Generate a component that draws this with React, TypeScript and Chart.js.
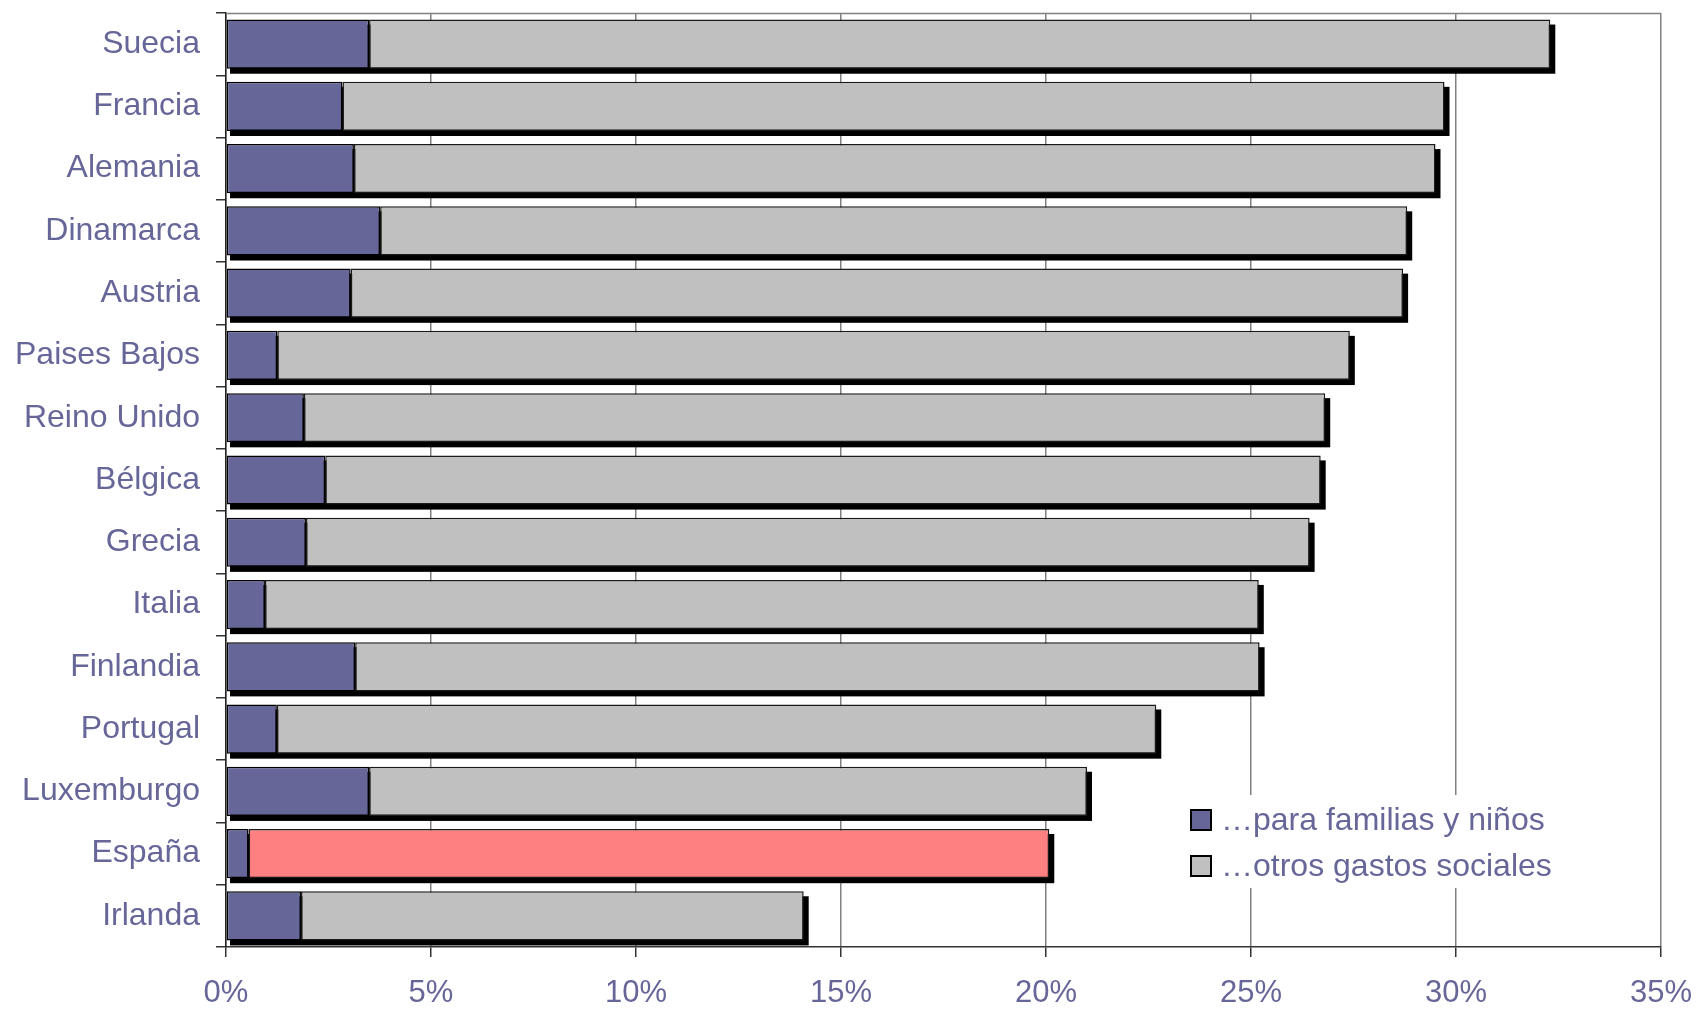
import React, { useEffect, useRef } from "react";
import { Chart, registerables } from "chart.js";

Chart.register(...registerables);

const countries = [
  "Suecia", "Francia", "Alemania", "Dinamarca", "Austria", "Paises Bajos",
  "Reino Unido", "Bélgica", "Grecia", "Italia", "Finlandia", "Portugal",
  "Luxemburgo", "España", "Irlanda",
];
const familias = [3.49, 2.84, 3.12, 3.76, 3.04, 1.25, 1.9, 2.42, 1.95, 0.95, 3.15, 1.24, 3.49, 0.55, 1.83];
const otros = [28.81, 26.88, 26.38, 25.05, 25.67, 26.16, 24.91, 24.28, 24.48, 24.24, 22.06, 21.45, 17.51, 19.53, 12.26];
const seriesLabels = ["…para familias y niños", "…otros gastos sociales"];
const xTickMax = 35;
const xTickStep = 5;

const BLUE = "#666699";
const GRAY = "#C0C0C0";
const RED = "#FF8080";
const TEXT = "#666699";
const FONT = "'Liberation Sans', Arial, sans-serif";

const shadowPlugin = {
  id: "shadowAndFrame",
  beforeDatasetsDraw(chart: any) {
    const ctx = chart.ctx;
    const area = chart.chartArea;
    ctx.save();
    ctx.strokeStyle = "#808080";
    ctx.lineWidth = 1.5;
    ctx.beginPath();
    ctx.moveTo(area.left, area.top + 0.5);
    ctx.lineTo(area.right, area.top + 0.5);
    ctx.stroke();
    const x0 = chart.scales.x.getPixelForValue(0);
    const meta = chart.getDatasetMeta(1);
    ctx.fillStyle = "#000";
    meta.data.forEach((el: any) => {
      const h = el.height;
      const top = el.y - h / 2;
      ctx.fillRect(x0 + 4, top + 5, el.x + 5 - (x0 + 4), h);
    });
    ctx.restore();
  },
  afterDatasetsDraw(chart: any) {
    const ctx = chart.ctx;
    ctx.save();
    ctx.fillStyle = "#fff";
    ctx.fillRect(1180, 795, 392, 93);
    const colors = [BLUE, GRAY];
    const centers = [820, 866];
    ctx.font = `32px ${FONT}`;
    ctx.textBaseline = "middle";
    ctx.textAlign = "left";
    chart.data.datasets.forEach((ds: any, i: number) => {
      const cy = centers[i];
      ctx.fillStyle = colors[i];
      ctx.fillRect(1191, cy - 10, 20, 20);
      ctx.strokeStyle = "#000";
      ctx.lineWidth = 2;
      ctx.strokeRect(1191, cy - 10, 20, 20);
      ctx.fillStyle = TEXT;
      ctx.fillText(ds.label, 1221, cy + 1);
    });
    ctx.restore();
  },
};

export default function App() {
  const ref = useRef<HTMLCanvasElement>(null);
  useEffect(() => {
    if (!ref.current) return;
    const chart = new Chart(ref.current, {
      type: "bar",
      data: {
        labels: countries,
        datasets: [
          {
            label: seriesLabels[0],
            data: familias,
            backgroundColor: BLUE,
            borderColor: "#000",
            borderWidth: 1.5,
            borderSkipped: false,
            barPercentage: 0.79,
            categoryPercentage: 1,
          },
          {
            label: seriesLabels[1],
            data: otros,
            backgroundColor: countries.map((c) => (c === "España" ? RED : GRAY)),
            borderColor: "#1a1a1a",
            borderWidth: 1.5,
            borderSkipped: false,
            barPercentage: 0.79,
            categoryPercentage: 1,
          },
        ],
      },
      options: {
        indexAxis: "y",
        responsive: false,
        animation: false,
        layout: { padding: { left: 0, right: 40, top: 13, bottom: 0 } },
        plugins: { legend: { display: false }, tooltip: { enabled: false } },
        scales: {
          x: {
            stacked: true,
            min: 0,
            max: xTickMax,
            ticks: {
              stepSize: xTickStep,
              callback: (v: any) => v + "%",
              color: TEXT,
              font: { family: FONT, size: 31 },
              padding: 18,
            },
            grid: {
              color: "#808080",
              lineWidth: 1.5,
              tickColor: "#333",
              tickLength: 10,
            },
            border: { color: "#333", width: 1.5 },
            afterFit: (s: any) => {
              s.height = 62;
              s.paddingLeft = 0;
              s.paddingRight = 0;
            },
          },
          y: {
            stacked: true,
            ticks: {
              color: TEXT,
              font: { family: FONT, size: 32 },
              padding: 16,
            },
            grid: {
              offset: true,
              drawOnChartArea: false,
              tickLength: 10,
              color: "#333",
              tickColor: "#333",
              lineWidth: 1.5,
            },
            border: { color: "#222", width: 1.5 },
            afterFit: (s: any) => {
              s.width = 226;
              s.paddingTop = 0;
              s.paddingBottom = 0;
            },
          },
        },
      },
      plugins: [shadowPlugin],
    } as any);
    return () => chart.destroy();
  }, []);
  return (
    <div style={{ position: "fixed", left: 0, top: 0, width: 1701, height: 1009, background: "#fff" }}>
      <canvas ref={ref} width={1701} height={1009} style={{ display: "block" }} />
    </div>
  );
}
